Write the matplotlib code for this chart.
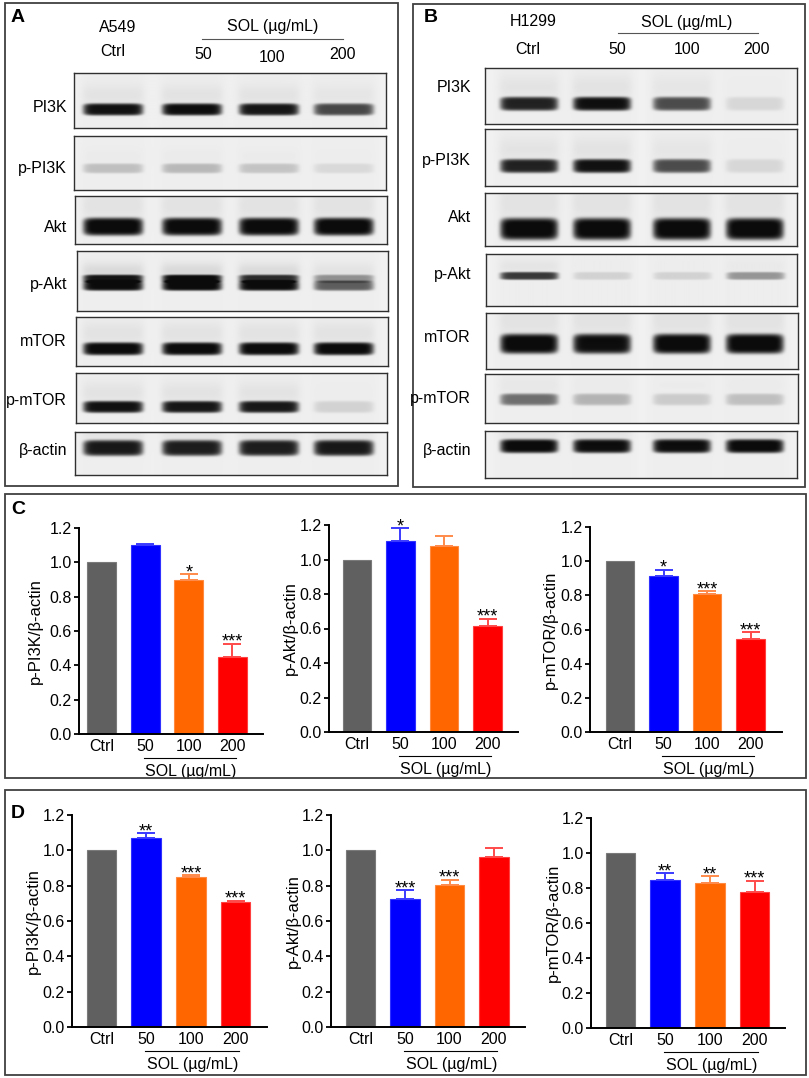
import numpy as np
import matplotlib
matplotlib.use('Agg')
import matplotlib.pyplot as plt
from matplotlib.patches import Rectangle
from matplotlib.transforms import blended_transform_factory

plt.rcParams['font.family'] = ['Liberation Sans', 'DejaVu Sans']

# ---------------- data ----------------
groups = ['Ctrl', '50', '100', '200']
dose_label = 'SOL (µg/mL)'
proteins = ['PI3K', 'p-PI3K', 'Akt', 'p-Akt', 'mTOR', 'p-mTOR', 'β-actin']

# western-blot band darkness per lane (Ctrl, 50, 100, 200), 0..1
a549_PI3K = [0.95, 0.97, 0.93, 0.72]
a549_pPI3K = [0.20, 0.23, 0.18, 0.09]
a549_Akt = [1.00, 0.99, 0.99, 1.00]
a549_pAkt_upper = [0.90, 0.95, 0.80, 0.38]
a549_pAkt_lower = [0.98, 1.00, 0.98, 0.62]
a549_mTOR = [0.99, 0.99, 0.99, 0.99]
a549_pmTOR = [0.95, 0.93, 0.92, 0.12]
a549_actin = [0.92, 0.90, 0.90, 0.92]

h1299_PI3K = [0.88, 0.96, 0.70, 0.10]
h1299_pPI3K = [0.88, 0.95, 0.70, 0.10]
h1299_Akt = [1.00, 1.00, 1.00, 1.00]
h1299_pAkt = [0.78, 0.12, 0.12, 0.38]
h1299_mTOR = [1.00, 0.97, 1.00, 1.00]
h1299_pmTOR = [0.55, 0.25, 0.15, 0.20]
h1299_actin = [0.99, 0.97, 0.97, 0.99]

# quantification (panel C: A549, panel D: H1299)
c_pi3k = [1.00, 1.10, 0.90, 0.45]
c_pi3k_err = [0.0, 0.005, 0.03, 0.075]
c_pi3k_sig = ['', '', '*', '***']
c_akt = [1.00, 1.11, 1.078, 0.613]
c_akt_err = [0.0, 0.07, 0.058, 0.041]
c_akt_sig = ['', '*', '', '***']
c_mtor = [1.00, 0.915, 0.808, 0.542]
c_mtor_err = [0.0, 0.033, 0.015, 0.041]
c_mtor_sig = ['', '*', '***', '***']

d_pi3k = [1.00, 1.068, 0.850, 0.709]
d_pi3k_err = [0.0, 0.028, 0.008, 0.005]
d_pi3k_sig = ['', '**', '***', '***']
d_akt = [1.00, 0.722, 0.805, 0.960]
d_akt_err = [0.0, 0.051, 0.026, 0.053]
d_akt_sig = ['', '***', '***', '']
d_mtor = [1.00, 0.844, 0.827, 0.777]
d_mtor_err = [0.0, 0.040, 0.040, 0.063]
d_mtor_sig = ['', '**', '**', '***']

ylabels = ['p-PI3K/β-actin', 'p-Akt/β-actin', 'p-mTOR/β-actin']

# ---------------- styles ----------------
bar_colors = ['#606060', '#0000FF', '#FF6600', '#FF0000']
edge_colors = ['#7a7a7a', '#3030ff', '#ff8a40', '#ff4040']
err_colors = ['#606060', '#3a3aff', '#ff8a4a', '#ff4a4a']

W, H = 809, 1078
fig = plt.figure(figsize=(W / 100, H / 100), dpi=100)


def px_axes(x0, y0, x1, y1):
    return fig.add_axes([x0 / W, 1 - y1 / H, (x1 - x0) / W, (y1 - y0) / H])


def T(x, y, s, **kw):
    kw.setdefault('ha', 'center')
    kw.setdefault('va', 'center')
    kw.setdefault('fontsize', 11.5)
    fig.text(x / W, 1 - y / H, s, **kw)


def frame(x0, y0, x1, y1, lw=1.3, ec='#404040'):
    fig.add_artist(Rectangle((x0 / W, 1 - y1 / H), (x1 - x0) / W, (y1 - y0) / H,
                             transform=fig.transFigure, fill=False, lw=lw, ec=ec))


def blot(box, lanes, hw, bands, bg=0.95):
    """bands: list of (intensities, y-centre fraction, half-height px)"""
    x0, y0, x1, y1 = box
    ax = px_axes(x0, y0, x1, y1)
    xs = np.linspace(x0, x1, int((x1 - x0) * 2))
    ys = np.linspace(y0, y1, int((y1 - y0) * 2))
    X, Y = np.meshgrid(xs, ys)
    D = np.zeros_like(X)
    L = np.zeros_like(X)
    for inten, yf, hh in bands:
        yc = y0 + yf * (y1 - y0)
        for c, I in zip(lanes, inten):
            # rounded-rectangle (superellipse) band shape
            r = (np.abs(X - c) / hw) ** 8 + (np.abs(Y - yc) / hh) ** 4
            core = np.exp(-r ** 1.5)
            fx = 1.0 / (1.0 + np.exp((np.abs(X - c) - hw) / 2.0))
            smear = 0.05 * I * fx * np.exp(-((Y - (yc - 2.4 * hh)) / (1.8 * hh)) ** 2)
            D = D + I * core + smear
    for c in lanes:
        L = L + 0.02 / (1.0 + np.exp((np.abs(X - c) - hw - 6) / 3.0))
    D = np.clip(D + L, 0, 1)
    img = bg - (bg - 0.05) * D
    ax.imshow(img, cmap='gray', vmin=0, vmax=1, extent=(x0, x1, y1, y0),
              aspect='auto', interpolation='bilinear')
    ax.set_xlim(x0, x1)
    ax.set_ylim(y1, y0)
    ax.set_xticks([])
    ax.set_yticks([])
    for s in ax.spines.values():
        s.set_linewidth(1.0)
        s.set_color('#303030')
    return ax


# ---------------- panel frames ----------------
frame(5, 3, 398, 486)
frame(413, 4, 805, 487)
frame(5, 494, 806, 778)
frame(5, 790, 806, 1075)

# ---------------- panel A ----------------
T(11, 9, 'A', fontsize=14, fontweight='bold', ha='left', va='top')
T(118, 27, 'A549')
T(113, 52, groups[0])
T(273, 27, dose_label)
fig.add_artist(plt.Line2D([202 / W, 343 / W], [1 - 39 / H, 1 - 39 / H], color='#555555', lw=0.8))
T(203, 55, groups[1])
T(272, 57, groups[2])
T(343, 55, groups[3])

lanesA = [113, 192, 269, 344]
a_rows = [
    ((74, 73, 386, 128), [(a549_PI3K, 0.67, 6)], 108),
    ((74, 136, 386, 190), [(a549_pPI3K, 0.60, 5)], 168),
    ((75, 196, 387, 244), [(a549_Akt, 0.64, 9)], 227),
    ((77, 251, 388, 311), [(a549_pAkt_upper, 0.46, 4), (a549_pAkt_lower, 0.58, 5)], 285),
    ((76, 317, 388, 366), [(a549_mTOR, 0.65, 6.5)], 342),
    ((76, 373, 387, 423), [(a549_pmTOR, 0.68, 6)], 400),
    ((75, 432, 387, 475), [(a549_actin, 0.37, 8)], 450),
]
for (box, bands, ly), name in zip(a_rows, proteins):
    blot(box, lanesA, 30, bands)
    T(67, ly, name, ha='right')

# ---------------- panel B ----------------
T(424, 9, 'B', fontsize=14, fontweight='bold', ha='left', va='top')
T(533, 22, 'H1299')
T(528, 49, groups[0])
T(687, 22, dose_label)
fig.add_artist(plt.Line2D([618 / W, 758 / W], [1 - 33 / H, 1 - 33 / H], color='#555555', lw=0.8))
T(617, 49, groups[1])
T(687, 50, groups[2])
T(757, 49, groups[3])

lanesB = [529, 602, 682, 755]
b_rows = [
    ((485, 68, 797, 124), [(h1299_PI3K, 0.64, 7)], 88),
    ((485, 129, 797, 186), [(h1299_pPI3K, 0.65, 7)], 160),
    ((485, 193, 797, 246), [(h1299_Akt, 0.68, 11)], 217),
    ((486, 254, 797, 306), [(h1299_pAkt, 0.42, 4)], 275),
    ((486, 313, 798, 369), [(h1299_mTOR, 0.55, 10)], 338),
    ((485, 374, 798, 423), [(h1299_pmTOR, 0.52, 6)], 399),
    ((485, 431, 797, 478), [(h1299_actin, 0.32, 7)], 451),
]
for (box, bands, ly), name in zip(b_rows, proteins):
    blot(box, lanesB, 29, bands)
    T(471, ly, name, ha='right')


# ---------------- bar charts ----------------
def bar_panel(box, xlim, vals, errs, sigs, ylabel, ylab_x):
    x0, x1, yt, yb = box
    ax = px_axes(x0, yt, x1, yb)
    xs = np.arange(len(groups))
    ax.bar(xs, vals, width=0.66, color=bar_colors, edgecolor=edge_colors,
           linewidth=0.8, zorder=2)
    for x, v, e, c, s in zip(xs, vals, errs, err_colors, sigs):
        if e > 0:
            ax.errorbar(x, v, yerr=[[0], [e]], fmt='none', ecolor=c, elinewidth=1.4,
                        capsize=6.5, capthick=1.4, zorder=3, clip_on=False)
        if s:
            ax.annotate(s, (x, v + e), xytext=(0, -2.0), textcoords='offset points',
                        ha='center', va='baseline', fontsize=13, annotation_clip=False)
    ax.set_xlim(*xlim)
    ax.set_ylim(0, 1.2)
    ax.set_yticks(np.arange(0, 1.21, 0.2))
    ax.set_yticklabels(['%.1f' % t for t in np.arange(0, 1.21, 0.2)], fontsize=11.5)
    ax.set_xticks(xs)
    ax.set_xticklabels(groups, fontsize=11.5)
    ax.tick_params(axis='x', length=0, pad=3.5)
    ax.tick_params(axis='y', direction='out', length=3.8, width=1.3, pad=1.5)
    for s in ['top', 'right']:
        ax.spines[s].set_visible(False)
    for s in ['left', 'bottom']:
        ax.spines[s].set_linewidth(1.4)
    T(ylab_x, (yt + yb) / 2, ylabel, rotation=90, fontsize=12)
    trans = blended_transform_factory(ax.transData, fig.transFigure)
    yl = 1 - (yb + 24) / H
    ax.plot([0.97, 3.08], [yl, yl], transform=trans, color='black', lw=0.8, clip_on=False)
    ax.text(2.04, 1 - (yb + 37.5) / H, dose_label, transform=trans, ha='center',
            va='center', fontsize=11.5)
    return ax


T(11, 501, 'C', fontsize=14, fontweight='bold', ha='left', va='top')
bar_panel((79, 263, 528, 734), (-0.52, 3.70), c_pi3k, c_pi3k_err, c_pi3k_sig, ylabels[0], 35)
bar_panel((329, 518, 525, 732), (-0.64, 3.70), c_akt, c_akt_err, c_akt_sig, ylabels[1], 290)
bar_panel((590, 782, 527, 732), (-0.69, 3.72), c_mtor, c_mtor_err, c_mtor_sig, ylabels[2], 550)

T(11, 805, 'D', fontsize=14, fontweight='bold', ha='left', va='top')
bar_panel((72, 267, 815, 1027), (-0.66, 3.70), d_pi3k, d_pi3k_err, d_pi3k_sig, ylabels[0], 33)
bar_panel((331, 525, 815, 1027), (-0.67, 3.70), d_akt, d_akt_err, d_akt_sig, ylabels[1], 293)
bar_panel((591, 785, 818, 1028), (-0.66, 3.68), d_mtor, d_mtor_err, d_mtor_sig, ylabels[2], 553)

fig.savefig('out.png', dpi=100)
